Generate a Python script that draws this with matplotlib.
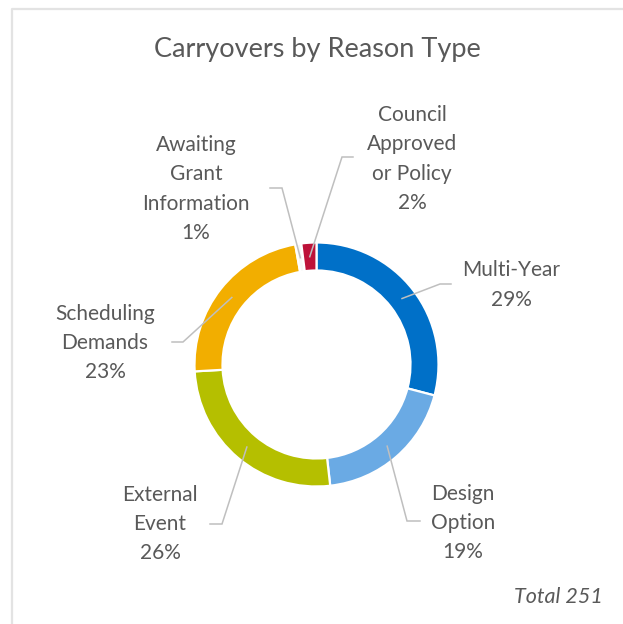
import numpy as np
import matplotlib
matplotlib.use("Agg")
import matplotlib.pyplot as plt
from matplotlib.lines import Line2D

# ---- data ----
categories = ["Multi-Year", "Design Option", "External Event", "Scheduling Demands",
              "Awaiting Grant Information", "Council Approved or Policy"]
label_lines = ["Multi-Year", "Design\nOption", "External\nEvent", "Scheduling\nDemands",
               "Awaiting\nGrant\nInformation", "Council\nApproved\nor Policy"]
counts = [73, 48, 65, 58, 2, 5]
colors = ["#0070C8", "#6AAAE4", "#B5BF00", "#F2AE00", "#F7F7F7", "#BD1239"]
title = "Carryovers by Reason Type"
total_label = "Total 251"

# ---- layout (pixel coordinates, y measured from top) ----
W, H = 623, 624
cx, cy = 316.5, 364.5
r_out, r_in = 122, 94
label_pos = [(511, 285), (463, 523), (160, 524), (105, 343), (196, 189), (412, 159)]
elbows = [((440, 284), (451, 284)), ((407, 521), (420, 521)), ((222, 524), (210, 524)),
          ((183, 342), (172, 342)), ((282, 188), (270, 188)), ((342, 157), (353, 157))]

plt.rcParams['font.family'] = ['Lato', 'DejaVu Sans']
txt_col = "#595959"

fig = plt.figure(figsize=(W / 100, H / 100), dpi=100)
ax = fig.add_axes([0, 0, 1, 1])
ax.set_xlim(0, W)
ax.set_ylim(0, H)
ax.set_aspect('equal')
ax.axis('off')

def Y(y):
    return H - y

wedges, _ = ax.pie(counts, colors=colors, startangle=90, counterclock=False,
                   radius=r_out, center=(cx, Y(cy)),
                   wedgeprops=dict(width=r_out - r_in, edgecolor='white', linewidth=1.6))
ax.set_xlim(0, W)
ax.set_ylim(0, H)

total = sum(counts)
cum = np.cumsum([0] + counts)
r_mid = (r_out + r_in) / 2
for i, (name, c) in enumerate(zip(label_lines, counts)):
    frac_mid = (cum[i] + c / 2) / total
    ang = np.deg2rad(90 - frac_mid * 360)
    sx = cx + r_mid * np.cos(ang)
    sy = Y(cy) + r_mid * np.sin(ang)
    (ex, ey), (hx, hy) = elbows[i]
    ax.add_line(Line2D([sx, ex, hx], [sy, Y(ey), Y(hy)], color="#BFBFBF", lw=1.1,
                       solid_joinstyle='miter'))
    pct = round(c / total * 100)
    lx, ly = label_pos[i]
    ax.text(lx, Y(ly), f"{name}\n{pct}%", ha='center', va='center', fontsize=15,
            color=txt_col, linespacing=1.58)

ax.text(317, Y(49), title, ha='center', va='center', fontsize=19.5, color=txt_col)
ax.text(603, Y(597), total_label, ha='right', va='center', fontsize=15.5,
        color=txt_col, style='italic')

# chart frame
ax.add_line(Line2D([12, 12, W], [0, Y(9), Y(9)], color="#E3E3E3", lw=1.6))

fig.savefig("out.png", dpi=100, facecolor='white')
